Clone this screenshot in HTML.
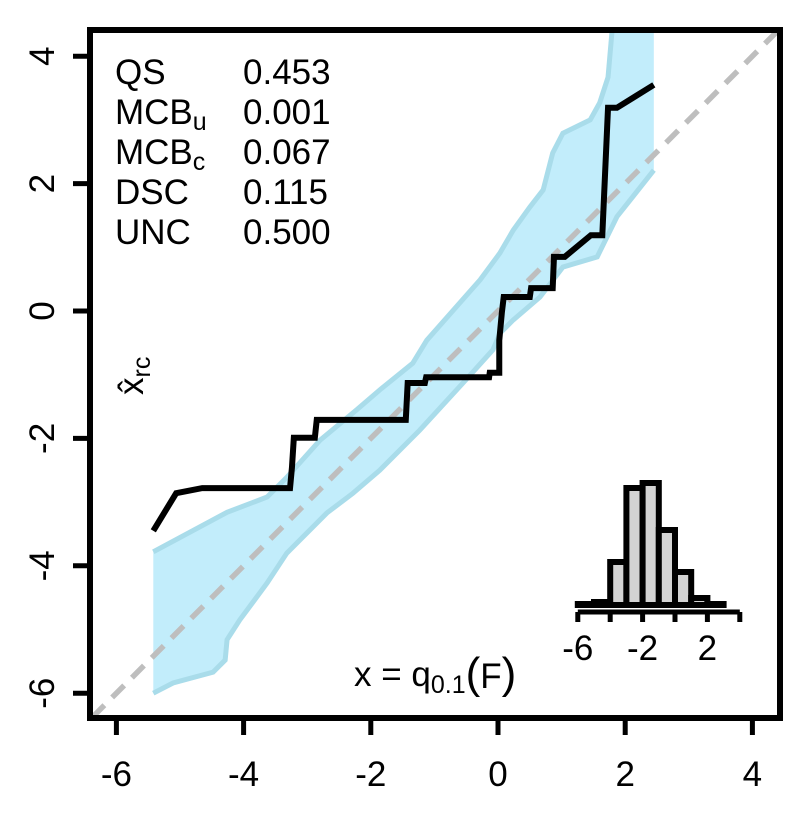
<!DOCTYPE html>
<html><head><meta charset="utf-8"><style>
body{margin:0;background:#fff}
svg text{font-family:"Liberation Sans",Arial,sans-serif;fill:#000;font-size:35px}
svg tspan.sub{font-size:25px}
svg tspan.par{font-size:44px}
</style></head><body>
<svg id="chart" width="810" height="810" xmlns="http://www.w3.org/2000/svg">
<defs><clipPath id="clip"><rect x="90" y="30" width="690" height="688"/></clipPath></defs>
<g id="band" clip-path="url(#clip)"></g>
<line id="diag" stroke="#bebebe" stroke-width="5.5" stroke-dasharray="17,11" clip-path="url(#clip)"/>
<path id="recal" fill="none" stroke="#000" stroke-width="6" stroke-linejoin="miter" clip-path="url(#clip)"/>
<rect x="90" y="30" width="690" height="688" fill="none" stroke="#000" stroke-width="6"/>
<g id="xaxis"></g>
<g id="yaxis"></g>
<g id="stats">
<text x="115" y="84">QS</text>
<text x="243" y="84">0.453</text>
<text x="115" y="124">MCB<tspan class="sub" dy="6">u</tspan></text>
<text x="243" y="124">0.001</text>
<text x="115" y="164">MCB<tspan class="sub" dy="6">c</tspan></text>
<text x="243" y="164">0.067</text>
<text x="115" y="204">DSC</text>
<text x="243" y="204">0.115</text>
<text x="115" y="244">UNC</text>
<text x="243" y="244">0.500</text>
</g>
<text transform="translate(143,395) rotate(-90)">x̂<tspan class="sub" dy="7">rc</tspan></text>
<text x="354" y="686">x = q<tspan class="sub" dy="7">0.1</tspan><tspan class="par" dy="-5">(</tspan>F<tspan class="par">)</tspan></text>
<g id="hist"></g>
</svg>
<script>
const xTicks=[-6,-4,-2,0,2,4];
const yTicks=[-6,-4,-2,0,2,4];
const lineX=[-5.42,-5.06,-4.65,-3.27,-3.24,-3.21,-2.88,-2.85,-1.45,-1.42,-1.15,-1.13,-0.14,-0.13,0.02,0.02,0.06,0.09,0.50,0.52,0.86,0.88,1.05,1.46,1.64,1.73,1.87,2.45];
const lineY=[-3.45,-2.86,-2.78,-2.78,-2.46,-1.99,-1.99,-1.71,-1.71,-1.13,-1.13,-1.04,-1.04,-0.97,-0.97,-0.46,-0.03,0.22,0.22,0.36,0.36,0.85,0.85,1.19,1.19,3.19,3.19,3.55];
const upperX=[-5.42,-4.26,-3.63,-3.32,-2.80,-2.22,-1.86,-1.34,-1.12,-0.28,0.03,0.24,0.50,0.71,0.86,1.02,1.45,1.60,1.73,1.79,1.82,2.45];
const upperY=[-3.78,-3.16,-2.92,-2.61,-2.03,-1.55,-1.24,-0.82,-0.46,0.49,0.91,1.27,1.63,1.90,2.48,2.79,3.00,3.27,3.67,4.36,4.57,4.57];
const lowerX=[-5.42,-5.11,-4.48,-4.29,-4.26,-4.06,-3.63,-3.32,-2.69,-2.28,-1.86,-1.23,-0.55,-0.08,0.03,0.24,0.66,1.02,1.56,1.87,2.45];
const lowerY=[-6.00,-5.84,-5.67,-5.48,-5.16,-4.85,-4.27,-3.80,-3.17,-2.86,-2.50,-1.87,-1.13,-0.61,-0.35,-0.14,0.22,0.69,0.85,1.48,2.21];
const histEdges=[-6,-5,-4,-3,-2,-1,0,1,2,3];
const histCounts=[1,3,43,117,122,75,33,7,1];
const histTicks=[-6,-4,-2,0,2,4];
const histLabels=[-6,-2,2];

const sx=v=>498+63.6*v, sy=v=>311-63.7*v;
const NS="http://www.w3.org/2000/svg";
function mk(tag,attrs,parent){const e=document.createElementNS(NS,tag);for(const k in attrs)e.setAttribute(k,attrs[k]);parent.appendChild(e);return e;}

const band=document.getElementById('band');
let pts=upperX.map((x,i)=>sx(x)+','+sy(upperY[i]));
for(let i=lowerX.length-1;i>=0;i--)pts.push(sx(lowerX[i])+','+sy(lowerY[i]));
const poly=mk('polygon',{points:pts.join(' '),fill:'#c2edfb',stroke:'none'},band);


const ub=mk('polyline',{points:upperX.map((x,i)=>sx(x)+','+sy(upperY[i])).join(' '),fill:'none',stroke:'#a9dcea','stroke-width':5},band);


const lb=mk('polyline',{points:lowerX.map((x,i)=>sx(x)+','+sy(lowerY[i])).join(' '),fill:'none',stroke:'#a9dcea','stroke-width':5},band);



const d=document.getElementById('diag');
d.setAttribute('x1',sx(-7));d.setAttribute('y1',sy(-7));d.setAttribute('x2',sx(5));d.setAttribute('y2',sy(5));

document.getElementById('recal').setAttribute('d','M'+lineX.map((x,i)=>sx(x)+' '+sy(lineY[i])).join(' L'));

const xa=document.getElementById('xaxis');
xTicks.forEach(t=>{
 const l=mk('line',{x1:sx(t),x2:sx(t),y1:718,y2:735,stroke:'#000','stroke-width':5},xa);
 
 
 const tx=mk('text',{x:sx(t),y:786,'text-anchor':'middle'},xa);
 
 
 tx.textContent=t;
});
const ya=document.getElementById('yaxis');
yTicks.forEach(t=>{
 const l=mk('line',{x1:73,x2:90,y1:sy(t),y2:sy(t),stroke:'#000','stroke-width':5},ya);
 
 
 const tx=mk('text',{x:0,y:0,'text-anchor':'middle',transform:`translate(54,${sy(t)}) rotate(-90)`},ya);
 
 
 tx.textContent=t;
});

const hg=document.getElementById('hist');
const hx=v=>675+16.2*v, hb=605;
histCounts.forEach((c,i)=>{
 const r=mk('rect',{x:hx(histEdges[i]),y:hb-c,width:hx(histEdges[i+1])-hx(histEdges[i]),height:c,fill:'#d3d3d3',stroke:'#000','stroke-width':6},hg);
 
 
});
const ax=mk('line',{x1:hx(-6),x2:hx(4),y1:612,y2:612,stroke:'#000','stroke-width':5},hg);


histTicks.forEach(t=>{
 const l=mk('line',{x1:hx(t),x2:hx(t),y1:612,y2:622,stroke:'#000','stroke-width':5},hg);
 
 
});
histLabels.forEach(t=>{
 const tx=mk('text',{x:hx(t),y:660,'text-anchor':'middle'},hg);
 
 
 tx.textContent=t;
});
</script>
</body></html>
